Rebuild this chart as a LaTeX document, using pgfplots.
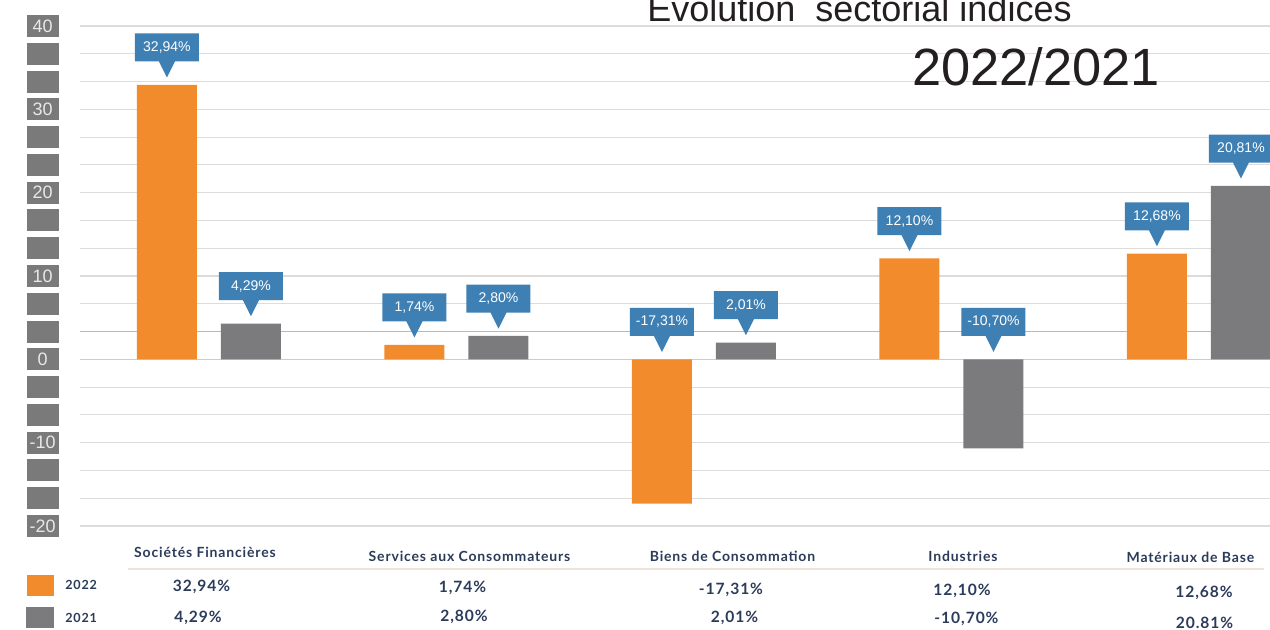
\documentclass[border=0pt]{standalone}
\usepackage{fontspec}
\setmainfont{Liberation Sans}
\newfontfamily\tabfont[LetterSpace=6]{Lato}
\usepackage{pgfplots}
\usepackage{pgfplotstable}
\pgfplotsset{compat=1.18}
\usetikzlibrary{shapes.callouts}

\definecolor{barorange}{HTML}{F28B2B}
\definecolor{bargrey}{HTML}{7B7A7C}
\definecolor{callblue}{HTML}{3F80B4}
\definecolor{tickbox}{HTML}{7A7A7A}
\definecolor{navy}{HTML}{2B3B5A}
\definecolor{gridc}{HTML}{DCDCDC}
\definecolor{ttl}{HTML}{231F20}

\pgfplotstableread{
x y
0 32.94
1 1.74
2 -17.31
3 12.10
4 12.68
}\tabA
\pgfplotstableread{
x y
0 4.29
1 2.80
2 2.01
3 -10.70
4 20.81
}\tabB

\tikzset{
  callout/.style={rectangle callout, fill=callblue, text=white,
    font=\fontsize{7}{7}\selectfont, minimum width=32pt, minimum height=14pt,
    inner sep=1pt, callout relative pointer={(canvas cs:x=0pt,y=-8pt)}, callout pointer width=8pt,
    anchor=south, yshift=11.5pt},
}

\begin{document}
\begin{tikzpicture}[x=1pt,y=1pt]
\useasboundingbox (-40,-52) rectangle (595,263);
\begin{axis}[
  at={(0,0)}, anchor=south west, scale only axis,
  width=595pt, height=250pt,
  xmin=-0.521, xmax=4.287, ymin=-20, ymax=40,
  axis line style={draw=none},
  xtick=\empty,
  ytick={-20,-16.6667,-13.3333,-10,-6.6667,-3.3333,0,3.3333,6.6667,10,13.3333,16.6667,20,23.3333,26.6667,30,33.3333,36.6667,40},
  yticklabels={-20,,,-10,,,0,,,10,,,20,,,30,,,40},
  major tick length=0pt,
  ymajorgrids, grid style={gridc, line width=0.6pt},
  yticklabel style={font=\fontsize{9}{9}\selectfont, text=white!82!gray,
    fill=tickbox, minimum width=16pt, minimum height=11pt, inner sep=0pt,
    anchor=east, xshift=-10.5pt},
  clip=false,
  /pgf/number format/assume math mode=true,
]
\draw[gray!55, line width=0.6pt] (axis cs:-0.521,3.3333) -- (axis cs:4.287,3.3333);
\draw[gray!40, line width=0.6pt] (axis cs:-0.521,0) -- (axis cs:4.287,0);
\addplot[ybar, bar width=30pt, bar shift=-21pt, fill=barorange, draw=none] table[x=x,y=y]{\tabA};
\addplot[ybar, bar width=30pt, bar shift=21pt, fill=bargrey, draw=none] table[x=x,y=y]{\tabB};
\addplot[draw=none, mark=none, point meta={abs(\thisrow{y})},
  visualization depends on={\thisrow{y}\as\val},
  nodes near coords={\pgfmathprintnumber[fixed,fixed zerofill,precision=2,use comma]{\val}\%},
  every node near coord/.append style={callout, xshift=-21pt}]
  table[x=x, y expr={max(\thisrow{y},0)}]{\tabA};
\addplot[draw=none, mark=none, point meta={abs(\thisrow{y})},
  visualization depends on={\thisrow{y}\as\val},
  nodes near coords={\pgfmathprintnumber[fixed,fixed zerofill,precision=2,use comma]{\val}\%},
  every node near coord/.append style={callout, xshift=21pt}]
  table[x=x, y expr={max(\thisrow{y},0)}]{\tabB};
\end{axis}

% titles
\node[anchor=base west, inner sep=0, text=ttl, font=\fontsize{18}{18}\selectfont] at (283.5,252) {Evolution\ \ sectorial indices};
\node[anchor=base west, inner sep=0, text=ttl, font=\fontsize{26.2}{26.2}\selectfont] at (416,220) {2022/2021};

% table below
\begin{scope}[every node/.style={inner sep=0, text=navy, anchor=base, font=\tabfont\bfseries\fontsize{7}{7}\selectfont}]
\node at (62.5,-16) {Sociétés Financières};
\node at (194.75,-18) {Services aux Consommateurs};
\node at (326.25,-18) {Biens de Consommation};
\node at (441.5,-18) {Industries};
\node at (555.25,-18.5) {Matériaux de Base};
\end{scope}
\draw[draw={rgb,255:red,237;green,227;blue,216}, line width=1pt] (24,-21.5) -- (592,-21.5);

\fill[barorange] (-26.5,-24.5) rectangle (-13,-35);
\fill[bargrey] (-27,-40.5) rectangle (-13,-51);
\begin{scope}[every node/.style={inner sep=0, text=navy, anchor=base west, font=\tabfont\bfseries\fontsize{6.3}{6.3}\selectfont}]
\node at (-7.5,-32) {2022};
\node at (-7.5,-48.5) {2021};
\end{scope}
\begin{scope}[every node/.style={inner sep=0, text=navy, anchor=base, font=\tabfont\bfseries\fontsize{7.8}{7.8}\selectfont}]
\node at (60.75,-33) {32,94\%};
\node at (191.25,-33.5) {1,74\%};
\node at (325.5,-34.5) {-17,31\%};
\node at (441,-35) {12,10\%};
\node at (562,-36) {12,68\%};
\node at (59,-48.5) {4,29\%};
\node at (192,-48) {2,80\%};
\node at (327.25,-48.5) {2,01\%};
\node at (443.25,-49) {-10,70\%};
\node at (562.25,-51.5) {20.81\%};
\end{scope}
\end{tikzpicture}
\end{document}
